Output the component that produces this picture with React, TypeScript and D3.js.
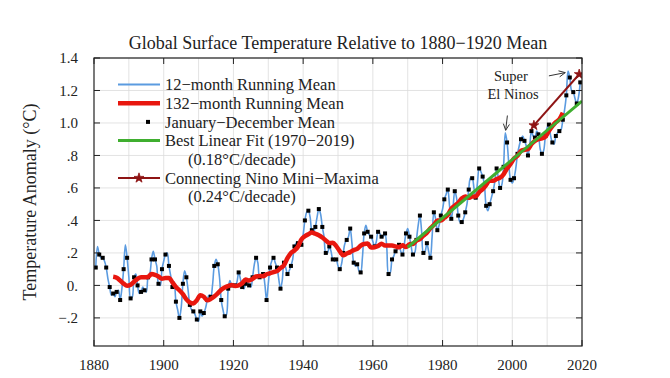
import React from 'react';
import * as d3 from 'd3';

// ---------- data ----------
const startYear = 1880;
// January–December annual means (°C, relative to 1880–1920)
const annualMean = [
  0.11, 0.19, 0.17, 0.11, -0.01, -0.05, -0.04, -0.09, 0.10, 0.17,
  -0.08, 0.05, 0.00, -0.04, -0.03, 0.05, 0.16, 0.16, 0.01, 0.10,
  0.19, 0.12, -0.01, -0.10, -0.20, 0.01, 0.05, -0.12, -0.16, -0.21,
  -0.16, -0.17, -0.09, -0.07, 0.12, 0.13, -0.09, -0.19, -0.02, 0.00,
  0.00, 0.08, -0.01, 0.01, 0.00, 0.05, 0.17, 0.05, 0.07, -0.09,
  0.11, 0.17, 0.11, -0.02, 0.14, 0.07, 0.12, 0.24, 0.26, 0.25,
  0.40, 0.46, 0.34, 0.36, 0.47, 0.36, 0.20, 0.24, 0.16, 0.16,
  0.10, 0.20, 0.28, 0.35, 0.14, 0.13, 0.08, 0.32, 0.33, 0.30,
  0.24, 0.33, 0.30, 0.32, 0.07, 0.16, 0.21, 0.25, 0.19, 0.32,
  0.30, 0.19, 0.28, 0.43, 0.20, 0.26, 0.17, 0.45, 0.34, 0.43,
  0.53, 0.59, 0.41, 0.58, 0.43, 0.39, 0.45, 0.59, 0.66, 0.54,
  0.72, 0.67, 0.49, 0.50, 0.58, 0.72, 0.60, 0.73, 0.88, 0.65,
  0.66, 0.81, 0.90, 0.89, 0.80, 0.95, 0.91, 0.93, 0.81, 0.92,
  0.99, 0.88, 0.92, 0.95, 1.02, 1.17, 1.28, 1.19, 1.12, 1.25,
];
// 12-month running mean centred on 1 January between consecutive years (Jul–Jun means)
const julJunMean = [
  0.24, 0.17, 0.15, 0.04, -0.06, -0.07, -0.03, -0.02, 0.25, 0.05,
  -0.07, 0.07, -0.05, -0.01, -0.04, 0.07, 0.21, 0.12, 0.00, 0.15,
  0.20, 0.06, 0.02, -0.15, -0.14, 0.09, -0.03, -0.15, -0.18, -0.22,
  -0.19, -0.14, -0.06, 0.00, 0.16, 0.05, -0.15, -0.18, 0.03, 0.01,
  0.02, 0.04, -0.02, 0.03, -0.01, 0.13, 0.14, 0.06, 0.01, 0.01,
  0.15, 0.14, 0.04, 0.03, 0.11, 0.09, 0.16, 0.26, 0.24, 0.31,
  0.45, 0.42, 0.33, 0.42, 0.44, 0.30, 0.20, 0.21, 0.15, 0.12,
  0.13, 0.26, 0.30, 0.26, 0.12, 0.09, 0.17, 0.37, 0.31, 0.27,
  0.27, 0.32, 0.30, 0.23, 0.08, 0.18, 0.22, 0.21, 0.25, 0.35,
  0.24, 0.20, 0.37, 0.33, 0.21, 0.21, 0.30, 0.41, 0.37, 0.47,
  0.56, 0.49, 0.48, 0.54, 0.39, 0.41, 0.50, 0.66, 0.60, 0.63,
  0.70, 0.62, 0.46, 0.54, 0.64, 0.66, 0.62, 0.94, 0.75, 0.63,
  0.72, 0.86, 0.92, 0.86, 0.86, 0.92, 0.95, 0.84, 0.83, 0.97,
  0.92, 0.87, 0.94, 0.96, 1.08, 1.32, 1.20, 1.15, 1.16,
];
// 132-month running mean, centred mid-year 1885 ... 2014
const mean132Start = 1885;
const mean132 = [
  0.053, 0.047, 0.030, 0.011, -0.002, 0.004, 0.023, 0.041, 0.050, 0.050,
  0.052, 0.070, 0.065, 0.055, 0.041, 0.045, 0.045, 0.019, -0.010, -0.030,
  -0.054, -0.086, -0.105, -0.111, -0.091, -0.061, -0.070, -0.092, -0.083, -0.068,
  -0.049, -0.027, -0.013, -0.004, 0.003, -0.004, 0.000, 0.013, 0.036, 0.030,
  0.040, 0.055, 0.058, 0.057, 0.069, 0.075, 0.082, 0.088, 0.107, 0.124,
  0.168, 0.200, 0.215, 0.238, 0.283, 0.303, 0.315, 0.325, 0.318, 0.309,
  0.295, 0.277, 0.261, 0.262, 0.242, 0.211, 0.185, 0.196, 0.205, 0.217,
  0.225, 0.245, 0.255, 0.258, 0.233, 0.235, 0.242, 0.257, 0.245, 0.245,
  0.245, 0.240, 0.235, 0.247, 0.236, 0.254, 0.255, 0.276, 0.285, 0.306,
  0.325, 0.352, 0.372, 0.399, 0.399, 0.416, 0.434, 0.472, 0.491, 0.509,
  0.535, 0.548, 0.539, 0.547, 0.547, 0.574, 0.593, 0.618, 0.645, 0.644,
  0.655, 0.663, 0.684, 0.720, 0.747, 0.781, 0.798, 0.828, 0.835, 0.839,
  0.870, 0.890, 0.900, 0.905, 0.916, 0.950, 0.980, 1.005, 1.023, 1.063,
];
const fitYears = [1970, 2020];
const fitValues = [0.235, 1.135];
const ninoYears = [2006.2, 2019.2];
const ninoValues = [0.985, 1.3];

const xTicks = [1880, 1900, 1920, 1940, 1960, 1980, 2000, 2020];
const xGrid = [1890, 1900, 1910, 1920, 1930, 1940, 1950, 1960, 1970, 1980, 1990, 2000, 2010];
const yTicks = [-0.2, 0, 0.2, 0.4, 0.6, 0.8, 1.0, 1.2, 1.4];
const yTickLabels = ['\u2212.2', '0.', '.2', '.4', '.6', '.8', '1.0', '1.2', '1.4'];

const title = 'Global Surface Temperature Relative to 1880\u22121920 Mean';
const yTitle = 'Temperature Anomaly (\u00B0C)';
const legendLabels = [
  '12\u2212month Running Mean',
  '132\u2212month Running Mean',
  'January\u2212December Mean',
  'Best Linear Fit (1970\u22122019)',
  '(0.18\u00B0C/decade)',
  'Connecting Nino Mini\u2212Maxima',
  '(0.24\u00B0C/decade)',
];

// ---------- style ----------
const W = 670, H = 378;
const M = { left: 94, right: 582, top: 58, bottom: 346 };
const FONT = '"Liberation Serif", "Times New Roman", serif';
const BLUE = '#5b9be0';
const RED = '#e8170f';
const GREEN = '#3fae2f';
const DARKRED = '#8e1414';

export default function App() {
  const x = d3.scaleLinear().domain([1880, 2020]).range([M.left, M.right]);
  const y = d3.scaleLinear().domain([-0.373, 1.4]).range([M.bottom, M.top]);

  const bluePts: [number, number][] = [];
  annualMean.forEach((v, i) => {
    bluePts.push([startYear + i + 0.5, v]);
    if (i < julJunMean.length) bluePts.push([startYear + i + 1, julJunMean[i]]);
  });
  const lineGen = d3.line<[number, number]>().x(d => x(d[0])).y(d => y(d[1]));
  const blueLine = d3.line<[number, number]>().x(d => x(d[0])).y(d => y(d[1])).curve(d3.curveCatmullRom.alpha(0.5));
  const redPts: [number, number][] = mean132.map((v, i) => [mean132Start + i + 0.5, v]);
  const redLine = d3.line<[number, number]>().x(d => x(d[0])).y(d => y(d[1])).curve(d3.curveMonotoneX);
  const fitPts: [number, number][] = fitYears.map((t, i) => [t, fitValues[i]]);
  const ninoPts: [number, number][] = ninoYears.map((t, i) => [t, ninoValues[i]]);
  const star = d3.symbol().type(d3.symbolStar).size(30)();

  const lgX0 = 118, lgX1 = 160, lgText = 165, lgY0 = 84.5, lgDy = 18.7;
  const lgFont = 16.5;

  const arrow = (x1: number, y1: number, x2: number, y2: number, key: string) => {
    const ang = Math.atan2(y2 - y1, x2 - x1);
    const L = 7, a = 0.45;
    const p1 = [x2 - L * Math.cos(ang - a), y2 - L * Math.sin(ang - a)];
    const p2 = [x2 - L * Math.cos(ang + a), y2 - L * Math.sin(ang + a)];
    return (
      <g key={key} stroke="#333" strokeWidth={1} fill="none">
        <line x1={x1} y1={y1} x2={x2} y2={y2} />
        <polyline points={`${p1[0]},${p1[1]} ${x2},${y2} ${p2[0]},${p2[1]}`} />
      </g>
    );
  };

  return (
    <svg width={W} height={H} style={{ position: 'absolute', left: 0, top: 0, background: '#fff' }} fontFamily={FONT}>
      <defs>
        <clipPath id="plotClip">
          <rect x={M.left} y={M.top} width={M.right - M.left} height={M.bottom - M.top} />
        </clipPath>
      </defs>
      <rect x={0} y={0} width={W} height={H} fill="#fff" />
      {/* grid */}
      <g stroke="#dcdcdc" strokeWidth={0.8}>
        {xGrid.map(t => <line key={'gx' + t} x1={x(t)} x2={x(t)} y1={M.top} y2={M.bottom} />)}
        {yTicks.map(v => <line key={'gy' + v} x1={M.left} x2={M.right} y1={y(v)} y2={y(v)} />)}
      </g>
      {/* title */}
      <text x={(M.left + M.right) / 2} y={49} textAnchor="middle" fontSize={18} fill="#222">{title}</text>
      {/* legend */}
      <g fontSize={lgFont} fill="#222">
        <line x1={lgX0} x2={lgX1} y1={lgY0} y2={lgY0} stroke={BLUE} strokeWidth={2} />
        <line x1={lgX0} x2={lgX1} y1={lgY0 + lgDy} y2={lgY0 + lgDy} stroke={RED} strokeWidth={4.5} />
        <rect x={146} y={lgY0 + 2 * lgDy - 2} width={4} height={4} fill="#000" />
        <line x1={lgX0} x2={lgX1} y1={lgY0 + 3 * lgDy} y2={lgY0 + 3 * lgDy} stroke={GREEN} strokeWidth={3} />
        <line x1={lgX0} x2={lgX1} y1={lgY0 + 5 * lgDy} y2={lgY0 + 5 * lgDy} stroke={DARKRED} strokeWidth={2} />
        <path d={star!} transform={`translate(${(lgX0 + lgX1) / 2},${lgY0 + 5 * lgDy})`} fill={DARKRED} stroke={DARKRED} strokeWidth={0.8} />
        {legendLabels.map((s, i) => (
          <text key={'lg' + i} x={i === 4 || i === 6 ? lgText + 23 : lgText} y={lgY0 + i * lgDy} dy="0.35em">{s}</text>
        ))}
      </g>
      {/* data */}
      <g clipPath="url(#plotClip)">
        <path d={blueLine(bluePts)!} fill="none" stroke={BLUE} strokeWidth={1.6} />
        {annualMean.map((v, i) => (
          <rect key={'d' + i} x={x(startYear + i + 0.5) - 2} y={y(v) - 2} width={4} height={4} fill="#000" />
        ))}
        <path d={redLine(redPts)!} fill="none" stroke={RED} strokeWidth={4.5} strokeLinejoin="round" />
        <path d={lineGen(fitPts)!} fill="none" stroke={GREEN} strokeWidth={3} />
        <path d={lineGen(ninoPts)!} fill="none" stroke={DARKRED} strokeWidth={2} />
        {ninoPts.map((p, i) => (
          <path key={'st' + i} d={star!} transform={`translate(${x(p[0])},${y(p[1])})`} fill={DARKRED} stroke={DARKRED} strokeWidth={0.8} />
        ))}
      </g>
      {/* annotations */}
      <g fontSize={14.5} fill="#222" textAnchor="middle">
        <text x={x(1999.6)} y={y(1.29)} dy="0.35em">Super</text>
        <text x={x(2000.2)} y={y(1.18)} dy="0.35em">El Ninos</text>
      </g>
      {arrow(x(1998.6), y(1.046), x(1998.1), y(0.955), 'a1')}
      {arrow(x(2010.5), y(1.29), x(2015.2), y(1.31), 'a2')}
      {/* frame & ticks */}
      <rect x={M.left} y={M.top} width={M.right - M.left} height={M.bottom - M.top} fill="none" stroke="#222" strokeWidth={1.2} />
      <g stroke="#222" strokeWidth={1}>
        {xTicks.map(t => (
          <g key={'xt' + t}>
            <line x1={x(t)} x2={x(t)} y1={M.bottom} y2={M.bottom - 6} />
            <line x1={x(t)} x2={x(t)} y1={M.top} y2={M.top + 6} />
          </g>
        ))}
        {yTicks.map(v => (
          <g key={'yt' + v}>
            <line x1={M.left} x2={M.left + 6} y1={y(v)} y2={y(v)} />
            <line x1={M.right} x2={M.right - 6} y1={y(v)} y2={y(v)} />
          </g>
        ))}
      </g>
      <g fontSize={15} fill="#222">
        {xTicks.map(t => (
          <text key={'xl' + t} x={x(t)} y={M.bottom + 24} textAnchor="middle">{t}</text>
        ))}
        {yTicks.map((v, i) => (
          <text key={'yl' + v} x={78} y={y(v)} dy="0.35em" textAnchor="end">{yTickLabels[i]}</text>
        ))}
      </g>
      <text transform={`translate(${36},${(M.top + M.bottom) / 2}) rotate(-90)`} textAnchor="middle" fontSize={18} fill="#222">{yTitle}</text>
    </svg>
  );
}
